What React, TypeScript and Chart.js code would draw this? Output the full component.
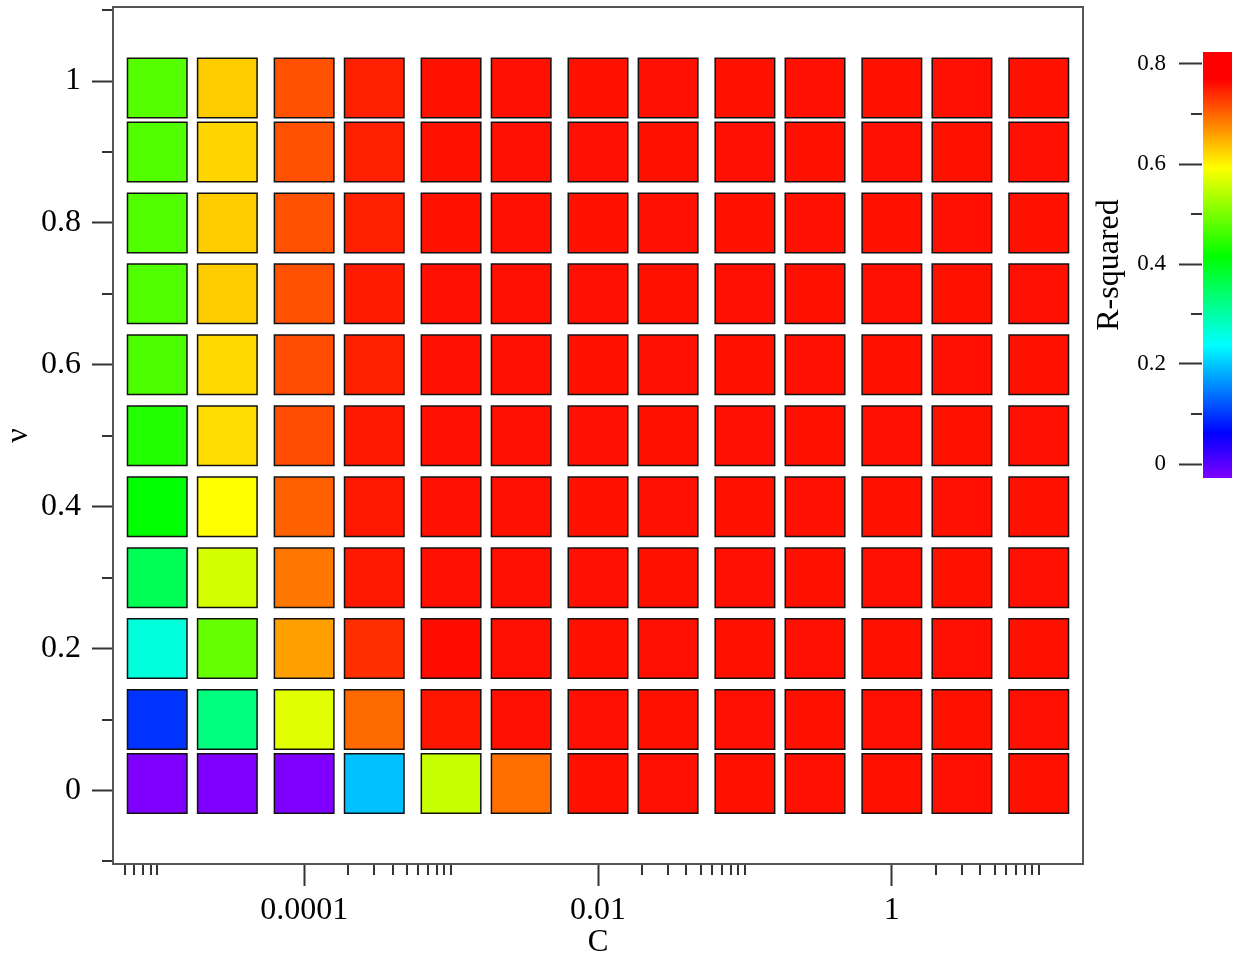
import React, { useEffect, useRef } from 'react';
import { Chart, registerables } from 'chart.js';

Chart.register(...registerables);

// ---- Data ----
const cValues = [1e-5, 3e-5, 1e-4, 3e-4, 1e-3, 3e-3, 0.01, 0.03, 0.1, 0.3, 1, 3, 10];
const nuValues = [0.01, 0.1, 0.2, 0.3, 0.4, 0.5, 0.6, 0.7, 0.8, 0.9, 0.99];

// R-squared for each nu row, columns follow cValues
const r2Nu001 = [-0.03, -0.03, -0.03, 0.194, 0.554, 0.693, 0.758, 0.759, 0.758, 0.759, 0.758, 0.759, 0.758];
const r2Nu010 = [0.096, 0.327, 0.572, 0.696, 0.755, 0.759, 0.759, 0.758, 0.759, 0.758, 0.759, 0.758, 0.759];
const r2Nu020 = [0.262, 0.486, 0.659, 0.737, 0.762, 0.759, 0.758, 0.759, 0.758, 0.759, 0.758, 0.759, 0.758];
const r2Nu030 = [0.356, 0.563, 0.687, 0.753, 0.759, 0.759, 0.759, 0.758, 0.759, 0.758, 0.759, 0.758, 0.759];
const r2Nu040 = [0.415, 0.593, 0.703, 0.753, 0.759, 0.759, 0.758, 0.759, 0.758, 0.759, 0.758, 0.759, 0.758];
const r2Nu050 = [0.439, 0.616, 0.717, 0.753, 0.759, 0.759, 0.759, 0.758, 0.759, 0.758, 0.759, 0.758, 0.759];
const r2Nu060 = [0.468, 0.619, 0.717, 0.748, 0.759, 0.759, 0.758, 0.759, 0.758, 0.759, 0.758, 0.759, 0.758];
const r2Nu070 = [0.47, 0.628, 0.714, 0.75, 0.759, 0.759, 0.759, 0.758, 0.759, 0.758, 0.759, 0.758, 0.759];
const r2Nu080 = [0.471, 0.628, 0.714, 0.748, 0.758, 0.759, 0.758, 0.759, 0.758, 0.759, 0.758, 0.759, 0.758];
const r2Nu090 = [0.472, 0.622, 0.714, 0.748, 0.758, 0.759, 0.759, 0.758, 0.759, 0.758, 0.759, 0.758, 0.759];
const r2Nu099 = [0.475, 0.628, 0.714, 0.748, 0.758, 0.759, 0.758, 0.759, 0.758, 0.759, 0.758, 0.759, 0.758];
const r2Rows = [r2Nu001, r2Nu010, r2Nu020, r2Nu030, r2Nu040, r2Nu050, r2Nu060, r2Nu070, r2Nu080, r2Nu090, r2Nu099];

// Axis ticks
const xMajorTicks = [1e-4, 1e-2, 1];
const xMajorLabels = ['0.0001', '0.01', '1'];
const xMinorTicks = [
  6e-6, 7e-6, 8e-6, 9e-6, 1e-5,
  2e-4, 3e-4, 4e-4, 5e-4, 6e-4, 7e-4, 8e-4, 9e-4, 1e-3,
  0.02, 0.03, 0.04, 0.05, 0.06, 0.07, 0.08, 0.09, 0.1,
  2, 3, 4, 5, 6, 7, 8, 9, 10,
];
const yMajorTicks = [0, 0.2, 0.4, 0.6, 0.8, 1];
const yMajorLabels = ['0', '0.2', '0.4', '0.6', '0.8', '1'];
const yMinorTicks = [-0.1, 0.1, 0.3, 0.5, 0.7, 0.9, 1.1];
const cbMajorTicks = [0, 0.2, 0.4, 0.6, 0.8];
const cbMajorLabels = ['0', '0.2', '0.4', '0.6', '0.8'];
const cbMinorTicks = [0.1, 0.3, 0.5, 0.7];

// Colour scale range
const cmapMin = -0.028;
const cmapMax = 0.77;

const FONT = "'Liberation Serif', 'Times New Roman', serif";
const AXIS_COLOR = '#333';

function r2Color(v: number): string {
  let t = (cmapMax - v) / (cmapMax - cmapMin);
  if (t < 0) t = 0;
  if (t > 1) t = 1;
  const hue = 270 * t;
  return `hsl(${hue.toFixed(2)}, 100%, 50%)`;
}

const mainExtras = {
  id: 'mainExtras',
  afterDraw(chart: any) {
    const { ctx, chartArea, scales } = chart;
    const xs = scales.x;
    const ys = scales.y;
    ctx.save();
    ctx.strokeStyle = AXIS_COLOR;
    ctx.lineWidth = 2;
    ctx.beginPath();
    xMinorTicks.forEach((v) => {
      const px = Math.round(xs.getPixelForValue(v));
      ctx.moveTo(px, chartArea.bottom + 1);
      ctx.lineTo(px, chartArea.bottom + 11);
    });
    yMinorTicks.forEach((v) => {
      const py = Math.round(ys.getPixelForValue(v));
      ctx.moveTo(chartArea.left - 1, py);
      ctx.lineTo(chartArea.left - 11, py);
    });
    ctx.stroke();
    ctx.strokeStyle = '#555';
    ctx.lineWidth = 2;
    ctx.strokeRect(chartArea.left, chartArea.top, chartArea.right - chartArea.left, chartArea.bottom - chartArea.top);
    ctx.restore();
  },
};

const colorbarExtras = {
  id: 'colorbarExtras',
  afterDraw(chart: any) {
    const { ctx, chartArea, scales } = chart;
    const ys = scales.y;
    ctx.save();
    const x0 = chartArea.left + 1;
    const w = chartArea.right - x0;
    for (let py = Math.floor(chartArea.top); py < Math.ceil(chartArea.bottom); py++) {
      const v = ys.getValueForPixel(py + 0.5);
      ctx.fillStyle = r2Color(v);
      ctx.fillRect(x0, py, w, 1);
    }
    ctx.strokeStyle = AXIS_COLOR;
    ctx.lineWidth = 2;
    ctx.beginPath();
    cbMinorTicks.forEach((v) => {
      const py = Math.round(ys.getPixelForValue(v));
      ctx.moveTo(chartArea.left - 11, py);
      ctx.lineTo(chartArea.left, py);
    });
    ctx.stroke();
    ctx.restore();
  },
};

export default function App() {
  const mainRef = useRef<HTMLCanvasElement | null>(null);
  const cbRef = useRef<HTMLCanvasElement | null>(null);

  useEffect(() => {
    if (!mainRef.current || !cbRef.current) return;

    const points: any[] = [];
    nuValues.forEach((nu, i) => {
      cValues.forEach((c, j) => {
        points.push({ x: c, y: nu, v: r2Rows[i][j] });
      });
    });

    const tileRadius = 59.5 / Math.SQRT2;

    const mainChart = new Chart(mainRef.current, {
      type: 'scatter',
      data: {
        datasets: [
          {
            data: points,
            pointStyle: 'rect',
            pointRadius: tileRadius,
            pointHoverRadius: tileRadius,
            backgroundColor: (ctx: any) => r2Color(ctx.raw ? ctx.raw.v : 0),
            borderColor: '#111',
            borderWidth: 1.5,
          } as any,
        ],
      },
      options: {
        responsive: false,
        animation: false,
        events: [],
        layout: { autoPadding: false, padding: { top: 7, right: 152, bottom: 0, left: 0 } },
        plugins: { legend: { display: false }, tooltip: { enabled: false } },
        scales: {
          x: {
            type: 'logarithmic',
            position: 'bottom',
            min: 5e-6,
            max: 20,
            bounds: 'data',
            grid: { drawOnChartArea: false, drawTicks: true, tickLength: 22, tickWidth: 2, tickColor: AXIS_COLOR },
            border: { display: true, color: AXIS_COLOR, width: 2 },
            ticks: {
              autoSkip: false,
              maxRotation: 0,
              minRotation: 0,
              padding: 5,
              color: '#000',
              font: { family: FONT, size: 32 },
              callback: (_v: any, i: number) => xMajorLabels[i],
            },
            afterBuildTicks: (s: any) => {
              s.ticks = xMajorTicks.map((v) => ({ value: v }));
            },
            afterFit: (s: any) => {
              s.height = 94;
              s.paddingLeft = 0;
              s.paddingRight = 0;
            },
            title: { display: true, text: 'C', color: '#000', font: { family: FONT, size: 31, lineHeight: 1 }, padding: 0 },
          } as any,
          y: {
            type: 'linear',
            position: 'left',
            min: -0.1036,
            max: 1.1043,
            bounds: 'data',
            grid: { drawOnChartArea: false, drawTicks: true, tickLength: 21, tickWidth: 2, tickColor: AXIS_COLOR },
            border: { display: true, color: AXIS_COLOR, width: 2 },
            ticks: {
              autoSkip: false,
              padding: 11,
              color: '#000',
              font: { family: FONT, size: 32 },
              callback: (_v: any, i: number) => yMajorLabels[i],
            },
            afterBuildTicks: (s: any) => {
              s.ticks = yMajorTicks.map((v) => ({ value: v }));
            },
            afterFit: (s: any) => {
              s.width = 113;
              s.paddingTop = 0;
              s.paddingBottom = 0;
            },
            title: { display: true, text: 'ν', color: '#000', font: { family: FONT, size: 32, lineHeight: 1 }, padding: { top: 3, bottom: 0 } },
          } as any,
        },
      },
      plugins: [mainExtras],
    });

    const cbChart = new Chart(cbRef.current, {
      type: 'scatter',
      data: { datasets: [] },
      options: {
        responsive: false,
        animation: false,
        events: [],
        layout: { autoPadding: false, padding: { top: 52, right: 3, bottom: 22, left: 0 } },
        plugins: { legend: { display: false }, tooltip: { enabled: false } },
        scales: {
          x: { display: false, min: 0, max: 1 },
          y: {
            type: 'linear',
            position: 'left',
            min: cmapMin,
            max: 0.824,
            bounds: 'data',
            grid: { drawOnChartArea: false, drawTicks: true, tickLength: 23, tickWidth: 2, tickColor: AXIS_COLOR },
            border: { display: false },
            ticks: {
              autoSkip: false,
              padding: 13,
              color: '#000',
              font: { family: FONT, size: 23 },
              callback: (_v: any, i: number) => cbMajorLabels[i],
            },
            afterBuildTicks: (s: any) => {
              s.ticks = cbMajorTicks.map((v) => ({ value: v }));
            },
            afterFit: (s: any) => {
              s.width = 117;
              s.paddingTop = 0;
              s.paddingBottom = 0;
            },
            title: { display: true, text: 'R-squared', color: '#000', font: { family: FONT, size: 32, lineHeight: 1 }, padding: { top: 9, bottom: 0 } },
          } as any,
        },
      },
      plugins: [colorbarExtras],
    });

    return () => {
      mainChart.destroy();
      cbChart.destroy();
    };
  }, []);

  return (
    <div style={{ position: 'fixed', left: 0, top: 0, width: 1235, height: 958, background: '#fff' }}>
      <canvas ref={mainRef} width={1235} height={958} style={{ position: 'absolute', left: 0, top: 0, width: 1235, height: 958 }} />
      <canvas ref={cbRef} width={150} height={500} style={{ position: 'absolute', left: 1085, top: 0, width: 150, height: 500 }} />
    </div>
  );
}
